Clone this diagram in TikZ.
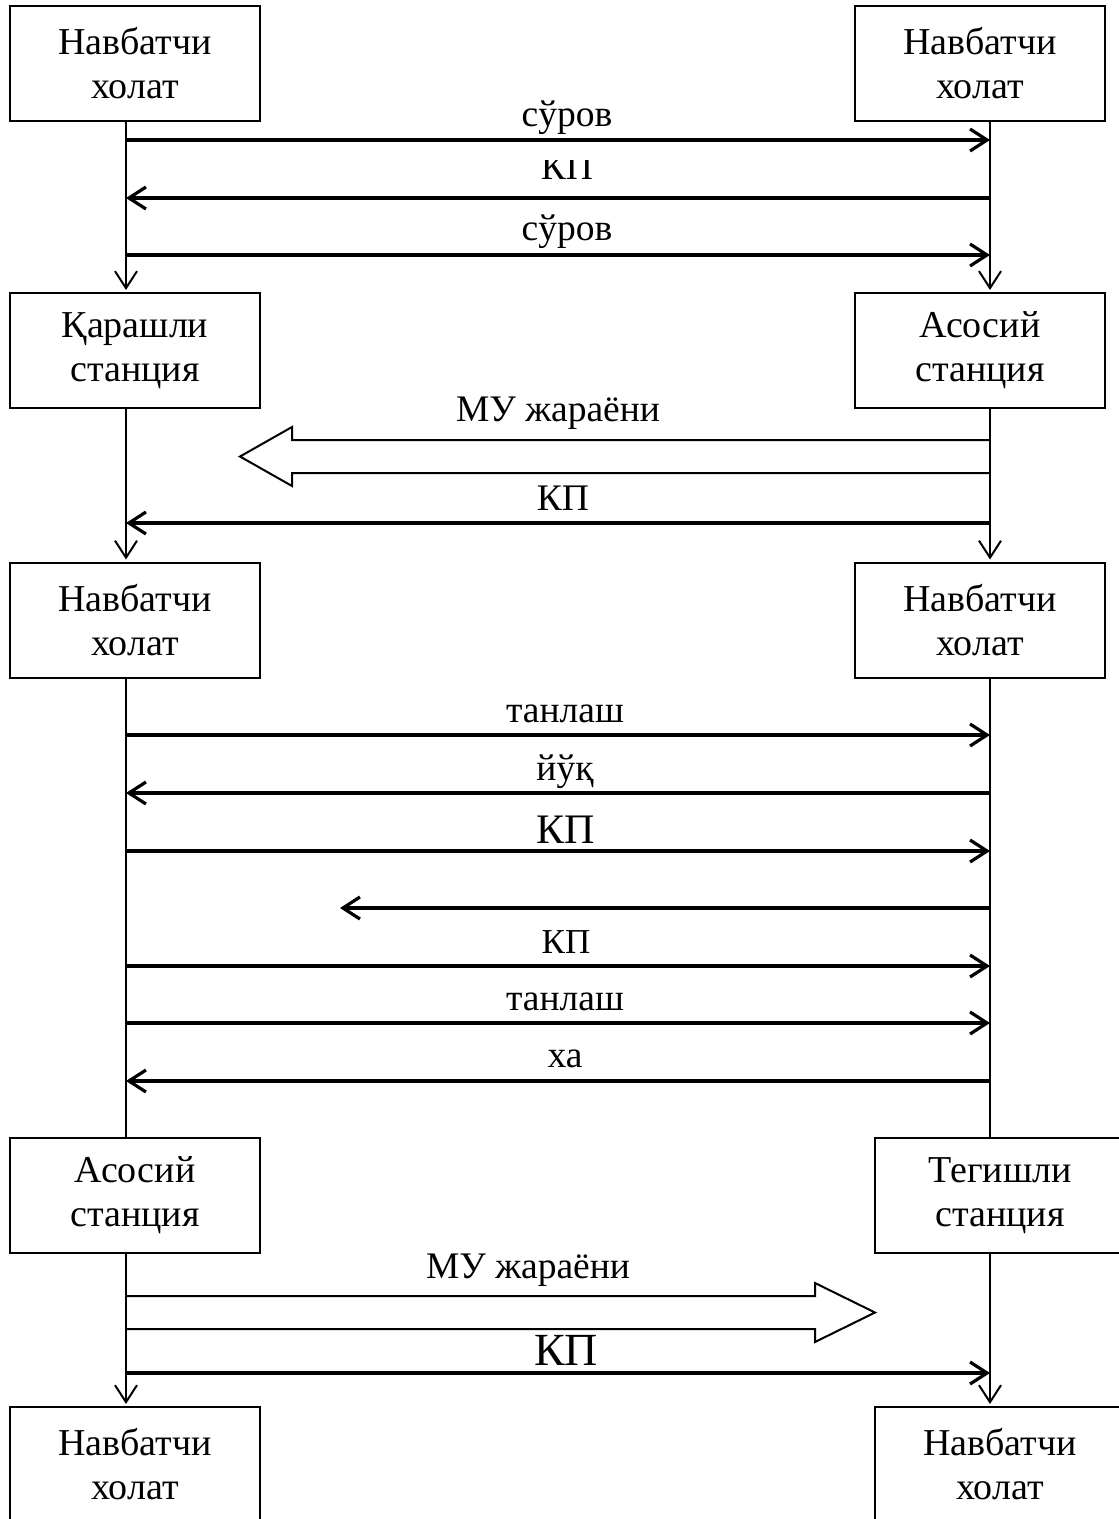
\documentclass[tikz,border=0pt]{standalone}
\usepackage{fontspec}
\setmainfont{Liberation Serif}
\usetikzlibrary{arrows.meta}

\begin{document}
\begin{tikzpicture}[x=1pt,y=-1pt,
  state/.style={draw, line width=2pt, fill=white, minimum width=250pt,
    minimum height=115pt, align=center, inner sep=0pt,
    font=\fontsize{38}{44}\selectfont},
  life/.style={line width=2pt},
  lifearrow/.style={life, shorten >=2pt,
    -{Straight Barb[length=17pt,width=22pt,line width=2pt]}},
  msg/.style={line width=3.2pt,
    -{Straight Barb[length=17pt,width=22pt,line width=3.2pt]}},
  lbl/.style={anchor=base, inner sep=0pt, font=\fontsize{37.5}{44}\selectfont},
  bigarrow/.style={draw, line width=2pt, fill=white, line join=miter}
]
\useasboundingbox (0,0) rectangle (1119,1519);
\clip (0,0) rectangle (1119,1519);

% lifeline columns
\coordinate (lx) at (126,0);
\coordinate (rx) at (990,0);

% state boxes
\node[state] (l1) at (135,63)     {Навбатчи\\холат};
\node[state] (r1) at (980,63)     {Навбатчи\\холат};
\node[state] (l2) at (135,350.5)  {Қарашли\\станция};
\node[state] (r2) at (980,350.5)  {Асосий\\станция};
\node[state] (l3) at (135,620)    {Навбатчи\\холат};
\node[state] (r3) at (980,620)    {Навбатчи\\холат};
\node[state] (l4) at (135,1195.5) {Асосий\\станция};
\node[state] (r4) at (1000,1195.5){Тегишли\\станция};
\node[state] (l5) at (135,1464.5) {Навбатчи\\холат};
\node[state] (r5) at (1000,1464.5){Навбатчи\\холат};

% wide data-stream arrows (drawn under the lifelines)
\draw[bigarrow] (990,440) -- (292,440) -- (292,427) -- (240,456.5)
  -- (292,486) -- (292,473) -- (990,473);
\draw[bigarrow] (126,1296) -- (815,1296) -- (815,1283) -- (875,1312.5)
  -- (815,1342) -- (815,1329) -- (126,1329);

% lifelines
\draw[lifearrow] (l1.south -| lx) -- (l2.north -| lx);
\draw[lifearrow] (r1.south -| rx) -- (r2.north -| rx);
\draw[lifearrow] (l2.south -| lx) -- (l3.north -| lx);
\draw[lifearrow] (r2.south -| rx) -- (r3.north -| rx);
\draw[life]      (l3.south -| lx) -- (l4.north -| lx);
\draw[life]      (r3.south -| rx) -- (r4.north -| rx);
\draw[lifearrow] (l4.south -| lx) -- (l5.north -| lx);
\draw[lifearrow] (r4.south -| rx) -- (r5.north -| rx);

% message end points on the lifelines
\foreach \yy/\nm in {140/a,198/b,255/c,523/d,735/e,793/f,851/g,908/h,
                     966/i,1023/j,1081/k,1373/m}{
  \coordinate (\nm L) at (126,\yy);
  \coordinate (\nm R) at (990,\yy);
}
\coordinate (hEnd) at (340,908);

% first exchange
\draw[msg] (aL) -- (aR);
\draw[msg] (bR) -- (bL);
\draw[msg] (cL) -- (cR);
\node[lbl] (t1) at (567,126) {сўров};
\begin{scope}
  \clip (400,160) rectangle (720,200);
  \node[lbl] (t2) at (567,179) {КП};
\end{scope}
\node[lbl] (t3) at (567,240) {сўров};

% main station answers
\node[lbl] (t4) at (558,421) {МУ жараёни};
\draw[msg] (dR) -- (dL);
\node[lbl] (t5) at (563,510) {КП};

% selection exchange
\draw[msg] (eL) -- (eR);
\node[lbl] (t6) at (565,722) {танлаш};
\draw[msg] (fR) -- (fL);
\node[lbl] (t7) at (565,780) {йўқ};
\draw[msg] (gL) -- (gR);
\node[lbl, font=\fontsize{42}{48}\selectfont] (t8) at (566,843) {КП};
\draw[msg] (hR) -- (hEnd);
\draw[msg] (iL) -- (iR);
\node[lbl, font=\fontsize{35}{42}\selectfont] (t9) at (566,953) {КП};
\draw[msg] (jL) -- (jR);
\node[lbl] (t10) at (565,1010) {танлаш};
\draw[msg] (kR) -- (kL);
\node[lbl] (t11) at (565,1067) {ха};

% transfer to the addressed station
\node[lbl] (t12) at (528,1278) {МУ жараёни};
\draw[msg] (mL) -- (mR);
\node[lbl, font=\fontsize{46}{52}\selectfont] (t13) at (566,1365) {КП};
\end{tikzpicture}
\end{document}
